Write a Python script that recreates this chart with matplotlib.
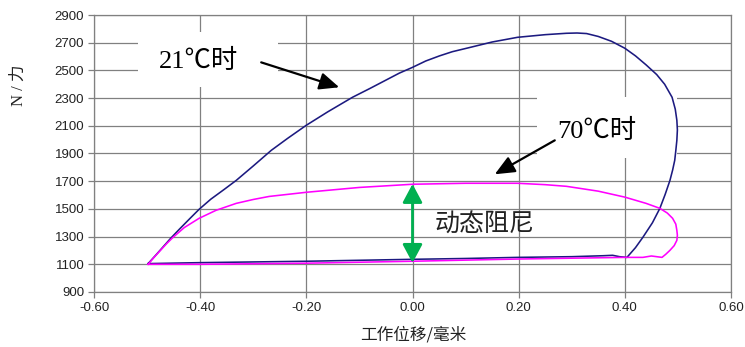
import matplotlib
matplotlib.use("Agg")
import matplotlib.pyplot as plt
from matplotlib.patches import Rectangle

# ---- data ----
x_ticks = [-0.60, -0.40, -0.20, 0.00, 0.20, 0.40, 0.60]
y_ticks = [900, 1100, 1300, 1500, 1700, 1900, 2100, 2300, 2500, 2700, 2900]

# 21°C loop (displacement mm, force N)
x21 = [-0.498, -0.485, -0.47, -0.455, -0.44, -0.42, -0.402, -0.38, -0.355,
       -0.332, -0.3, -0.266, -0.235, -0.2, -0.16, -0.113, -0.08, -0.05,
       -0.025, 0.0, 0.025, 0.051, 0.075, 0.102, 0.15, 0.198, 0.25, 0.29,
       0.31, 0.328, 0.35, 0.375, 0.4, 0.42, 0.44, 0.46, 0.475, 0.489, 0.495,
       0.498, 0.499, 0.498, 0.496, 0.494, 0.49, 0.485, 0.476, 0.466, 0.452,
       0.434, 0.42, 0.404, 0.39, 0.377, 0.36, 0.3, 0.198, 0.1, 0.0, -0.2,
       -0.4, -0.498]
y21 = [1105, 1160, 1225, 1290, 1350, 1428, 1497, 1570, 1640,
       1706, 1810, 1923, 2010, 2104, 2200, 2306, 2370, 2430,
       2480, 2522, 2568, 2605, 2635, 2660, 2705, 2739, 2758, 2768,
       2770, 2766, 2745, 2710, 2660, 2605, 2540, 2470, 2400, 2306, 2220,
       2140, 2070, 1995, 1920, 1851, 1780, 1706, 1605, 1504, 1400,
       1295, 1220, 1150, 1155, 1165, 1162, 1155, 1150, 1142, 1136, 1122,
       1112, 1105]

# 70°C loop
x70 = [-0.498, -0.487, -0.475, -0.463, -0.451, -0.43, -0.402, -0.37, -0.332,
       -0.3, -0.27, -0.2, -0.1, 0.0, 0.1, 0.198, 0.25, 0.29, 0.35, 0.4, 0.44,
       0.466, 0.48, 0.49, 0.496, 0.498, 0.499, 0.498, 0.493, 0.485, 0.477,
       0.47, 0.46, 0.45, 0.434, 0.4, 0.198, 0.0, -0.2, -0.4, -0.498]
y70 = [1100, 1150, 1200, 1250, 1295, 1365, 1432, 1490, 1540,
       1568, 1590, 1620, 1655, 1678, 1685, 1685, 1675, 1663, 1628, 1585, 1540,
       1504, 1470, 1432, 1390, 1345, 1310, 1273, 1235, 1201, 1172,
       1150, 1155, 1160, 1150, 1150, 1138, 1122, 1108, 1100, 1100]

label21 = "21℃时"
label70 = "70℃时"
label_damp = "动态阻尼"
xlabel = "工作位移/毫米"
ylabel = "N / 力"

damp_x = 0.0
damp_low, damp_high = 1110, 1680

# ---- figure ----
fig = plt.figure(figsize=(7.45, 3.47), dpi=100)
ax = fig.add_axes([94/745, 1-292/347, (731-94)/745, (292-15)/347])

ax.set_xlim(-0.6, 0.6)
ax.set_ylim(900, 2900)
ax.set_xticks(x_ticks)
ax.set_xticklabels([f"{v:.2f}" for v in x_ticks])
ax.set_yticks(y_ticks)
ax.set_axisbelow(True)
ax.grid(True, color="#808080", linewidth=0.9)
for s in ax.spines.values():
    s.set_color("#808080")
    s.set_linewidth(0.9)
ax.tick_params(direction="out", length=4, width=0.9, color="#808080",
               labelsize=9.5, labelcolor="#222222", pad=3)
for t in ax.get_xticklabels() + ax.get_yticklabels():
    t.set_fontfamily(["Liberation Sans"])

ax.plot(x21, y21, color="#1c1a80", linewidth=1.15, zorder=3)
ax.plot(x70, y70, color="#ff00ff", linewidth=1.15, zorder=3)

# white label boxes
ax.add_patch(Rectangle((-0.517, 2378), 0.264, 397, facecolor="white",
                       edgecolor="none", zorder=1))
ax.add_patch(Rectangle((0.234, 1865), 0.264, 441, facecolor="white",
                       edgecolor="none", zorder=1))

txtfam = ["Liberation Serif", "Noto Sans CJK SC"]
ax.text(-0.404, 2566, label21, fontsize=19, family=txtfam, ha="center",
        va="center", zorder=4)
ax.text(0.347, 2060, label70, fontsize=19, family=txtfam, ha="center",
        va="center", zorder=4)
ax.text(0.136, 1396, label_damp, fontsize=18, family=["Noto Sans CJK SC"],
        ha="center", va="center", color="#222222", zorder=4)

ax.annotate("", xy=(-0.138, 2378), xytext=(-0.285, 2558),
            arrowprops=dict(arrowstyle="-|>,head_length=0.8,head_width=0.35",
                            color="black", lw=1.6, mutation_scale=15,
                            shrinkA=0, shrinkB=0), zorder=4)
ax.annotate("", xy=(0.155, 1750), xytext=(0.268, 1995),
            arrowprops=dict(arrowstyle="-|>,head_length=0.8,head_width=0.35",
                            color="black", lw=1.6, mutation_scale=15,
                            shrinkA=0, shrinkB=0), zorder=4)
ax.annotate("", xy=(damp_x, damp_low), xytext=(damp_x, damp_high),
            arrowprops=dict(arrowstyle="<|-|>,head_length=0.75,head_width=0.4",
                            color="#00b050", lw=2, mutation_scale=15,
                            shrinkA=0, shrinkB=0), zorder=4)

fig.text(413/745, 1-335/347, xlabel, fontsize=12, family=["Noto Sans CJK SC"],
         ha="center", va="center", color="#222222")
fig.text(19/745, 1-85/347, ylabel, fontsize=12, family=txtfam, rotation=90,
         ha="center", va="center", color="#222222")

fig.savefig("out.png", dpi=100)
